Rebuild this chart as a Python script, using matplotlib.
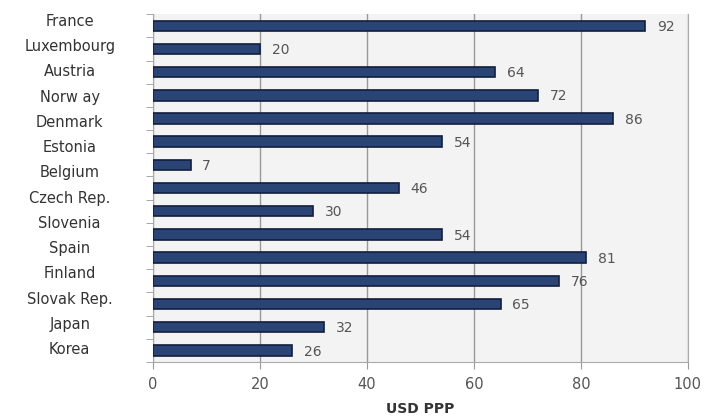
import numpy as np
import matplotlib
matplotlib.use("Agg")
import matplotlib.pyplot as plt

# country labels as printed on the axis (14 labels)
countries = ['France', 'Luxembourg', 'Austria', 'Norw ay', 'Denmark', 'Estonia', 'Belgium',
             'Czech Rep.', 'Slovenia', 'Spain', 'Finland', 'Slovak Rep.', 'Japan', 'Korea']
# bar values top to bottom (15 bars)
values = [92, 20, 64, 72, 86, 54, 7, 46, 30, 54, 81, 76, 65, 32, 26]
xticks = [0, 20, 40, 60, 80, 100]

fig = plt.figure(figsize=(7.12, 4.17), dpi=100)
ax = fig.add_axes([0.215, 0.132, 0.751, 0.834])
ax.set_facecolor('#f3f3f3')

ypos = np.arange(len(values))
ax.barh(ypos, values, height=0.45, color='#2b4476', edgecolor='#121e3c', linewidth=1.2, zorder=3)

for y, v in zip(ypos, values):
    ax.text(v + 2.2, y + 0.05, str(v), va='center', ha='left', fontsize=10, color='#555555', zorder=4)

ax.set_xlim(0, 100)
ax.set_ylim(len(values) - 0.5, -0.5)
ax.set_xticks(xticks)
ax.set_xticklabels([str(t) for t in xticks], fontsize=10.5, color='#555555')
ax.grid(axis='x', color='#999999', linewidth=1.0, zorder=1)

# labels do not line up with bars in the original
label_pos = np.linspace(-0.25, 13.9, len(countries))
ax.set_yticks(label_pos)
ax.set_yticklabels(countries, fontsize=10.5, color='#333333', ha='center')
ax.tick_params(axis='y', length=0, pad=60)
ax.set_yticks(np.arange(-0.5, len(values)), minor=True)
ax.tick_params(axis='y', which='minor', length=5, color='#999999')
ax.tick_params(axis='x', length=5, color='#999999', pad=6)

ax.spines['top'].set_visible(False)
ax.spines['right'].set_color('#aaaaaa')
ax.spines['left'].set_color('#aaaaaa')
ax.spines['bottom'].set_color('#aaaaaa')

ax.set_xlabel('USD PPP', fontsize=10, fontweight='bold', color='#333333', labelpad=7)

fig.savefig('out.png', dpi=100)
